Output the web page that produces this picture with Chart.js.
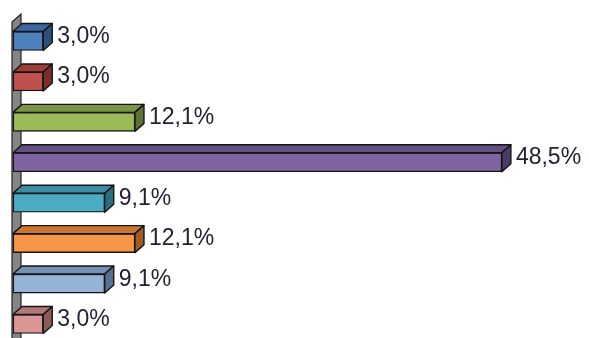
<!DOCTYPE html>
<html>
<head>
<meta charset="utf-8">
<script src="https://cdn.jsdelivr.net/npm/chart.js@4/dist/chart.umd.min.js"></script>
<style>
  html, body { margin: 0; padding: 0; background: #ffffff; }
  canvas { display: block; }
</style>
</head>
<body>
<canvas id="chart" width="589" height="338"></canvas>
<script>
// Share of answers per option (percent)
const categories = ['A', 'B', 'C', 'D', 'E', 'F', 'G', 'H'];
const values = [3.0, 3.0, 12.1, 48.5, 9.1, 12.1, 9.1, 3.0];
const valueLabels = ['3,0%', '3,0%', '12,1%', '48,5%', '9,1%', '12,1%', '9,1%', '3,0%'];

// Face colours for each bar: front, top, side
const frontColors = ['#4F81BD', '#C0504D', '#9BBB59', '#8064A2', '#4BACC6', '#F79646', '#95B3D7', '#D99694'];
const topColors   = ['#3D67A0', '#9E3D3A', '#7A9545', '#654E84', '#3A8DA5', '#C97632', '#7690B4', '#B37876'];
const sideColors  = ['#2D4F7C', '#7C2D2B', '#5E7433', '#4C3B66', '#2B6E82', '#A05C24', '#58708F', '#8C5A58'];

const DX = 9, DY = 8; // 3D depth offset

const bars3d = {
  id: 'bars3d',
  beforeDatasetsDraw(chart) {
    const ctx = chart.ctx;
    const x0 = chart.scales.x.getPixelForValue(0) - 1;
    const top = 22, bottom = 360;
    ctx.save();
    // left side wall
    ctx.beginPath();
    ctx.moveTo(x0, top);
    ctx.lineTo(x0 + DX, top - DY);
    ctx.lineTo(x0 + DX, bottom - DY);
    ctx.lineTo(x0, bottom);
    ctx.closePath();
    ctx.fillStyle = '#858585';
    ctx.fill();
    ctx.strokeStyle = '#222222';
    ctx.lineWidth = 1.2;
    ctx.stroke();
    ctx.restore();
  },
  afterDatasetsDraw(chart) {
    const ctx = chart.ctx;
    const meta = chart.getDatasetMeta(0);
    ctx.save();
    ctx.lineWidth = 1.4;
    ctx.strokeStyle = '#151515';
    ctx.lineJoin = 'round';
    meta.data.forEach((bar, i) => {
      const p = bar.getProps(['x', 'y', 'base', 'height'], true);
      const l = p.base, r = p.x;
      const t = p.y - p.height / 2, b = p.y + p.height / 2;
      // top face
      ctx.beginPath();
      ctx.moveTo(l, t);
      ctx.lineTo(l + DX, t - DY);
      ctx.lineTo(r + DX, t - DY);
      ctx.lineTo(r, t);
      ctx.closePath();
      ctx.fillStyle = topColors[i];
      ctx.fill();
      ctx.stroke();
      // right face
      ctx.beginPath();
      ctx.moveTo(r, t);
      ctx.lineTo(r + DX, t - DY);
      ctx.lineTo(r + DX, b - DY);
      ctx.lineTo(r, b);
      ctx.closePath();
      ctx.fillStyle = sideColors[i];
      ctx.fill();
      ctx.stroke();
      // value label
      ctx.fillStyle = '#222233';
      ctx.font = '23px "Liberation Sans", Arial, sans-serif';
      ctx.textAlign = 'left';
      ctx.textBaseline = 'alphabetic';
      ctx.fillText(valueLabels[i], r + DX + 5, p.y + 2);
    });
    ctx.restore();
  }
};

new Chart(document.getElementById('chart'), {
  type: 'bar',
  data: {
    labels: categories,
    datasets: [{
      data: values,
      backgroundColor: frontColors,
      borderColor: '#151515',
      borderWidth: 1.4,
      borderSkipped: false,
      barThickness: 19,
      clip: false
    }]
  },
  options: {
    indexAxis: 'y',
    responsive: false,
    animation: false,
    layout: { padding: { left: 13, right: 72, top: 41, bottom: 14 } },
    scales: {
      x: { type: 'linear', min: 0, max: 50, display: false },
      y: { type: 'category', display: false, offset: false }
    },
    plugins: {
      legend: { display: false },
      tooltip: { enabled: false }
    }
  },
  plugins: [bars3d]
});
</script>
</body>
</html>
